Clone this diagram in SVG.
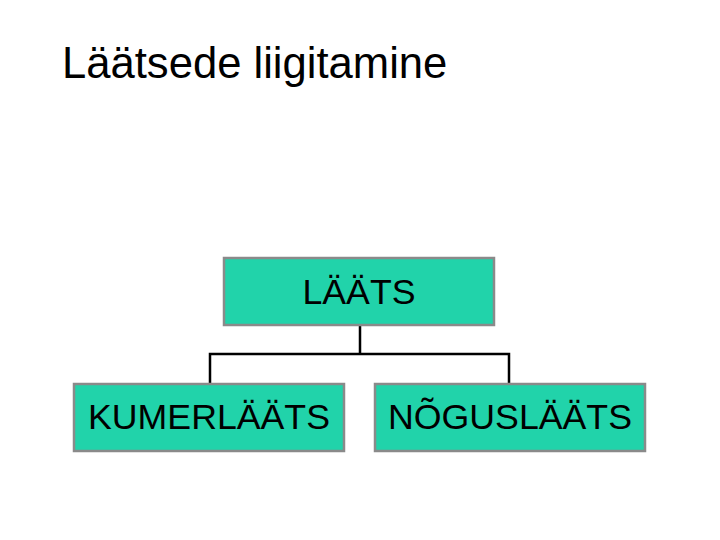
<svg xmlns="http://www.w3.org/2000/svg" width="720" height="540" viewBox="0 0 720 540">
<style>
.box{fill:#21d3aa;stroke:#8a8a8a;stroke-width:2.5}
.lbl{font-family:"Liberation Sans",Arial,sans-serif;font-size:35.7px;fill:#000;text-anchor:middle}
.title{font-family:"Liberation Sans",Arial,sans-serif;font-size:43.6px;fill:#000}
.conn{fill:none;stroke:#000;stroke-width:2.5}
</style>
<rect width="720" height="540" fill="#fff"/>
<text class="title" x="62" y="78">Läätsede liigitamine</text>
<g id="connectors">
<path class="conn" d="M360 325V354M210 383V354H509V383"/>
</g>
<g id="node-laats">
<rect class="box" x="224" y="258" width="270" height="67"/>
<text class="lbl" x="359" y="304">LÄÄTS</text>
</g>
<g id="node-kumerlaats">
<rect class="box" x="74" y="384" width="270" height="67"/>
<text class="lbl" x="209" y="429">KUMERLÄÄTS</text>
</g>
<g id="node-nogouslaats">
<rect class="box" x="375" y="384" width="270" height="67"/>
<text class="lbl" x="510" y="429">NÕGUSLÄÄTS</text>
</g>
</svg>
